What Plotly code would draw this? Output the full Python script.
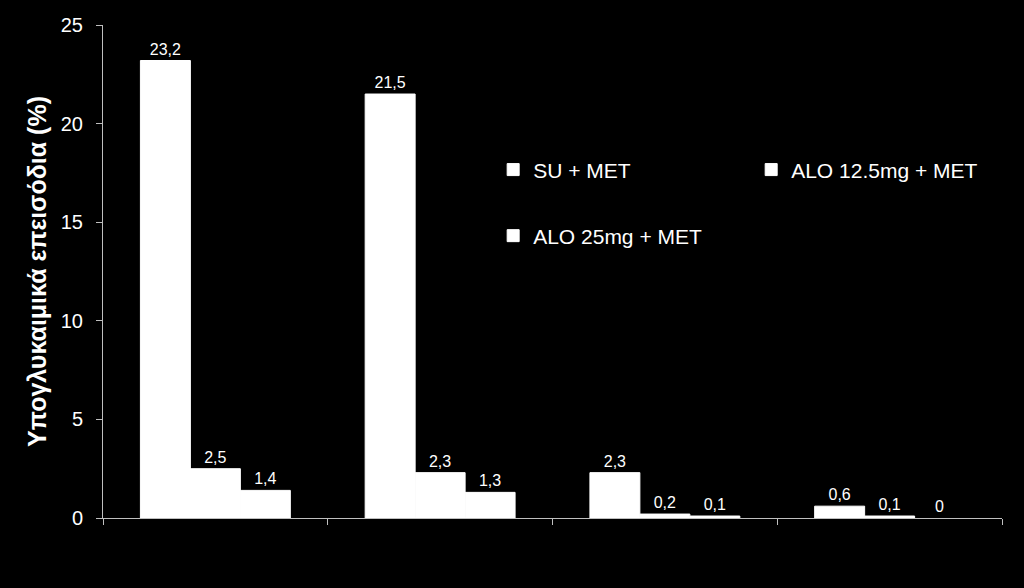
import plotly.graph_objects as go

groups = ["G1", "G2", "G3", "G4"]
series_names = ["SU + MET", "ALO 12.5mg + MET", "ALO 25mg + MET"]
su_met = [23.2, 21.5, 2.3, 0.6]
alo125_met = [2.5, 2.3, 0.2, 0.1]
alo25_met = [1.4, 1.3, 0.1, 0.0]

y_ticks = [0, 5, 10, 15, 20, 25]
y_title = "Υπογλυκαιμικά επεισόδια (%)"

FONT = "Liberation Sans, Arial, sans-serif"
AXIS = "#bfbfbf"


def fmt(v):
    s = f"{v:g}"
    return s.replace(".", ",")


fig = go.Figure()
legends = ["legend", "legend2", "legend3"]
for name, vals, lg in zip(series_names, [su_met, alo125_met, alo25_met], legends):
    # thin white outline closes the hairline gaps between touching bars
    edge = [1 if v > 0 else 0 for v in vals]
    fig.add_trace(go.Bar(
        x=groups, y=vals, name=name, legend=lg, showlegend=True,
        marker=dict(color="white", line=dict(width=edge, color="white")),
        text=[fmt(v) for v in vals], textposition="outside",
        textfont=dict(color="white", size=16, family=FONT),
        cliponaxis=False,
    ))

leg_common = dict(font=dict(color="white", size=21, family=FONT),
                  bgcolor="rgba(0,0,0,0)", xanchor="left", yanchor="middle")

fig.update_layout(
    width=1024, height=588,
    paper_bgcolor="black", plot_bgcolor="black",
    margin=dict(l=103, r=22, t=25, b=70),
    barmode="group", bargap=0.333, bargroupgap=0,
    font=dict(family=FONT, color="white"),
    legend=dict(x=0.434, y=0.706, **leg_common),
    legend2=dict(x=0.721, y=0.706, **leg_common),
    legend3=dict(x=0.434, y=0.572, **leg_common),
    xaxis=dict(showticklabels=False, tickson="boundaries", ticks="outside",
               ticklen=6, tickcolor=AXIS, showline=True, linecolor=AXIS,
               linewidth=1, showgrid=False, zeroline=False),
    yaxis=dict(range=[0, 25], tickvals=y_ticks, ticks="outside", ticklen=6,
               tickcolor=AXIS, showline=True, linecolor=AXIS, linewidth=1,
               showgrid=False, zeroline=False, ticklabelstandoff=9,
               tickfont=dict(size=20, color="white", family=FONT),
               title=dict(text=f"<b>{y_title}</b>", standoff=7,
                          font=dict(size=25, color="white", family=FONT))),
)

fig.write_html("out.html", config={"displayModeBar": False},
               post_script="document.body.style.margin='0';")
